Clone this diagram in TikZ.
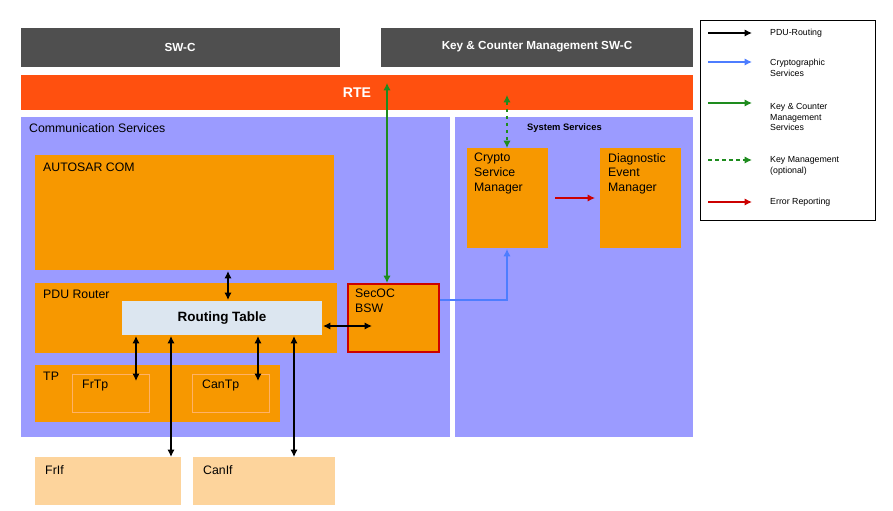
\documentclass[tikz,border=0pt]{standalone}
\usepackage{fontspec}
\setmainfont{Liberation Sans}
\usetikzlibrary{arrows.meta,positioning}
\definecolor{swgray}{HTML}{4F4F4F}
\definecolor{rtered}{HTML}{FF500F}
\definecolor{lav}{HTML}{9B9BFF}
\definecolor{org}{HTML}{F79800}
\definecolor{lorg}{HTML}{FDD49C}
\definecolor{rtab}{HTML}{DCE6F0}
\definecolor{blu}{HTML}{4D7DFF}
\definecolor{grn}{HTML}{1E8C1E}
\definecolor{redarr}{HTML}{CC0000}
\begin{document}
\begin{tikzpicture}[x=0.03cm,y=-0.03cm,
    box/.style={draw=none, inner sep=0pt, font=\fontsize{10.5}{12.5}\selectfont, align=left},
    lbl/.style={anchor=north west, font=\fontsize{10.5}{12.5}\selectfont, align=left, inner sep=0pt},
    leg/.style={anchor=west, font=\fontsize{7.5}{9}\selectfont, align=left, inner sep=0pt},
    pdu/.style={{Latex[length=2.2mm,width=2.2mm]}-{Latex[length=2.2mm,width=2.2mm]}, line width=0.5mm}]
  \useasboundingbox (0,0) rectangle (893,511);

  % top layers
  \fill[swgray] (21,28) rectangle (340,67);
  \node[text=white, font=\bfseries\fontsize{10}{12}\selectfont] (swc) at (180,47) {SW-C};
  \fill[swgray] (381,28) rectangle (693,67);
  \node[text=white, font=\bfseries\fontsize{10}{12}\selectfont] (kcm) at (537,47) {Key \& Counter Management SW-C};
  \fill[rtered] (21,75) rectangle (693,110);
  \node[text=white, font=\bfseries\fontsize{12}{14}\selectfont] (rte) at (357,93) {RTE};

  % service areas
  \fill[lav] (21,117) rectangle (450,437);
  \node[lbl] (comm) at (29,123) {Communication Services};
  \fill[lav] (455,117) rectangle (693,437);
  \node[lbl, font=\bfseries\fontsize{8}{10}\selectfont] (sys) at (527,123) {System Services};

  % boxes
  \fill[org] (35,155) rectangle (334,270);
  \node[lbl] (com) at (43,163) {AUTOSAR COM};
  \fill[org] (35,283) rectangle (337,353);
  \node[lbl] (pdur) at (43,290) {PDU Router};
  \fill[rtab] (122,301) rectangle (322,335);
  \node[font=\bfseries\fontsize{11.5}{13}\selectfont] (rt) at (222,318) {Routing Table};
  \fill[org] (35,365) rectangle (280,422);
  \node[lbl] (tp) at (43,372) {TP};
  \fill[org, draw=orange!60!white] (72,374) rectangle (149,412);
  \node[lbl] (frtp) at (82,380) {FrTp};
  \fill[org, draw=orange!60!white] (192,374) rectangle (269,412);
  \node[lbl] (cantp) at (202,380) {CanTp};
  \filldraw[fill=org, draw=redarr, line width=0.8mm] (348,284) rectangle (439,352);
  \node[lbl] (secoc) at (355,289) {SecOC\\BSW};
  \fill[org] (467,148) rectangle (548,248);
  \node[lbl] (csm) at (474,153) {Crypto\\Service\\Manager};
  \fill[org] (600,148) rectangle (681,248);
  \node[lbl] (dem) at (608,153) {Diagnostic\\Event\\Manager};
  \fill[lorg] (35,457) rectangle (181,505);
  \node[lbl] (frif) at (45,465) {FrIf};
  \fill[lorg] (193,457) rectangle (335,505);
  \node[lbl] (canif) at (203,465) {CanIf};

  % connections
  \draw[pdu] (228,271) -- (228,300);
  \draw[pdu] (323,326) -- (372,326);
  \draw[pdu] (136,336) -- (136,381);
  \draw[pdu] (171,336) -- (171,457);
  \draw[pdu] (258,336) -- (258,381);
  \draw[pdu] (294,336) -- (294,457);
  \draw[pdu, grn, line width=0.4mm] (387,83) -- (387,283);
  \draw[pdu, grn, line width=0.4mm, dashed] (507,95) -- (507,148);
  \draw[-{Latex[length=2.2mm,width=2.2mm]}, blu, line width=0.4mm] (440,300) -- (507,300) -- (507,249);
  \draw[-{Latex[length=2.2mm,width=2.2mm]}, redarr, line width=0.4mm] (555,198) -- (595,198);

  % legend
  \draw[fill=white, line width=0.5pt] (700,20) rectangle (875,220);
  \draw[-{Latex[length=2.2mm,width=2.2mm]}, line width=0.5mm] (708,33) -- (752,33);
  \node[leg] (l1) at (770,33) {PDU-Routing};
  \draw[-{Latex[length=2.2mm,width=2.2mm]}, blu, line width=0.5mm] (708,62) -- (752,62);
  \node[leg] (l2) at (770,68) {Cryptographic\\Services};
  \draw[-{Latex[length=2.2mm,width=2.2mm]}, grn, line width=0.5mm] (708,103) -- (752,103);
  \node[leg] (l3) at (770,117) {Key \& Counter\\Management\\Services};
  \draw[-{Latex[length=2.2mm,width=2.2mm]}, grn, line width=0.5mm, dashed] (708,160) -- (752,160);
  \node[leg] (l4) at (770,166) {Key Management\\(optional)};
  \draw[-{Latex[length=2.2mm,width=2.2mm]}, redarr, line width=0.5mm] (708,202) -- (752,202);
  \node[leg] (l5) at (770,202) {Error Reporting};
\end{tikzpicture}
\end{document}
